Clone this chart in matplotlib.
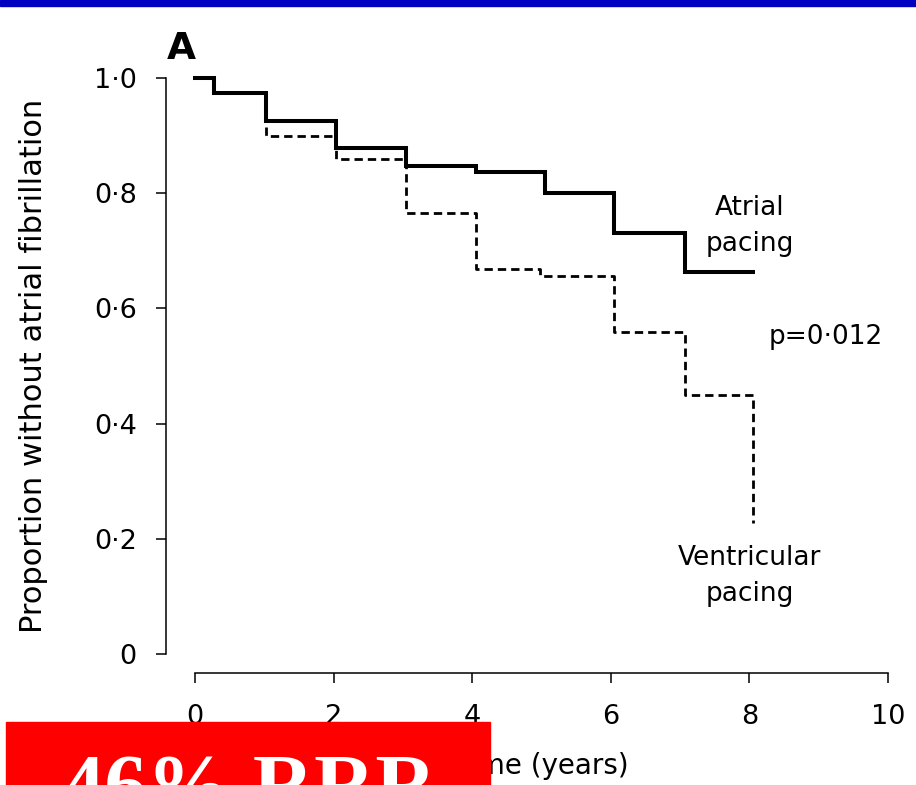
import matplotlib
matplotlib.use("Agg")
import matplotlib.pyplot as plt
from matplotlib.patches import Rectangle

# --- data ---
atrial_time = [0, 0.27, 1.02, 2.03, 3.05, 4.05, 5.05, 6.05, 7.07, 8.05]
atrial_surv = [1.0, 0.974, 0.925, 0.879, 0.847, 0.837, 0.800, 0.731, 0.663, 0.663]

vent_time = [0, 0.27, 1.02, 2.03, 3.05, 4.05, 4.98, 6.05, 7.07, 8.05]
vent_surv = [1.0, 0.974, 0.899, 0.859, 0.766, 0.668, 0.656, 0.559, 0.450, 0.227]

y_ticks = [0, 0.2, 0.4, 0.6, 0.8, 1.0]
y_tick_labels = ["0", "0·2", "0·4", "0·6", "0·8", "1·0"]
x_ticks = [0, 2, 4, 6, 8, 10]

plt.rcParams['font.family'] = ['DejaVu Sans']

W, H = 916, 785
fig = plt.figure(figsize=(W / 100, H / 100), dpi=100)

# axes placed in pixel terms: x 0..10 -> 195..888, y 0..1 -> 654..78
ax = fig.add_axes([195 / W, (H - 654) / H, (888 - 195) / W, (654 - 78) / H])
ax.set_xlim(0, 10)
ax.set_ylim(0, 1)

ax.plot(atrial_time, atrial_surv, drawstyle='steps-post', color='black',
        lw=2.9, clip_on=False, solid_joinstyle='miter')
ax.plot(vent_time, vent_surv, drawstyle='steps-post', color='black',
        lw=2.0, linestyle=(0, (3.0, 1.8)), clip_on=False)

# detached spines
for s in ['top', 'right']:
    ax.spines[s].set_visible(False)
ax.spines['left'].set_position(('outward', 21))
ax.spines['bottom'].set_position(('outward', 14))
ax.spines['left'].set_bounds(0, 1)
ax.spines['bottom'].set_bounds(0, 10)
for s in ['left', 'bottom']:
    ax.spines[s].set_linewidth(1.1)

ax.set_yticks(y_ticks)
ax.set_yticklabels(y_tick_labels)
ax.set_xticks(x_ticks)
ax.tick_params(axis='both', length=7, width=1.1, labelsize=19.5, color='black')
ax.tick_params(axis='y', pad=14)
ax.tick_params(axis='x', pad=15)

ax.set_ylabel("Proportion without atrial fibrillation", fontsize=22, labelpad=33)
ax.set_xlabel("Time (years)", fontsize=20, labelpad=16)

# curve annotations
ax.text(8.0, 0.743, "Atrial\npacing", fontsize=19, ha='center', va='center',
        linespacing=1.5)
ax.text(9.1, 0.55, "p=0·012", fontsize=19, ha='center', va='center')
ax.text(8.0, 0.135, "Ventricular\npacing", fontsize=19, ha='center', va='center',
        linespacing=1.5)

# panel letter
fig.text(167 / W, (H - 59) / H, "A", fontsize=27, fontweight='bold',
         family=['Liberation Sans Narrow', 'DejaVu Sans'], ha='left', va='baseline')

# blue bar at the top
fig.patches.append(Rectangle((0, (H - 6) / H), 1, 6 / H, transform=fig.transFigure,
                             color='#0000C0', zorder=5))

# red overlay box; its text runs off the bottom edge as in the original slide
fig.patches.append(Rectangle((6 / W, 0), (490 - 6) / W, (H - 722) / H,
                             transform=fig.transFigure, color='#FF0000', zorder=5))
fig.text(62 / W, (H - 813) / H, "46% RRR", fontsize=61, fontweight='bold',
         family=['Liberation Serif', 'DejaVu Serif'], color='white',
         ha='left', va='baseline', zorder=6)

fig.savefig("out.png", dpi=100)
